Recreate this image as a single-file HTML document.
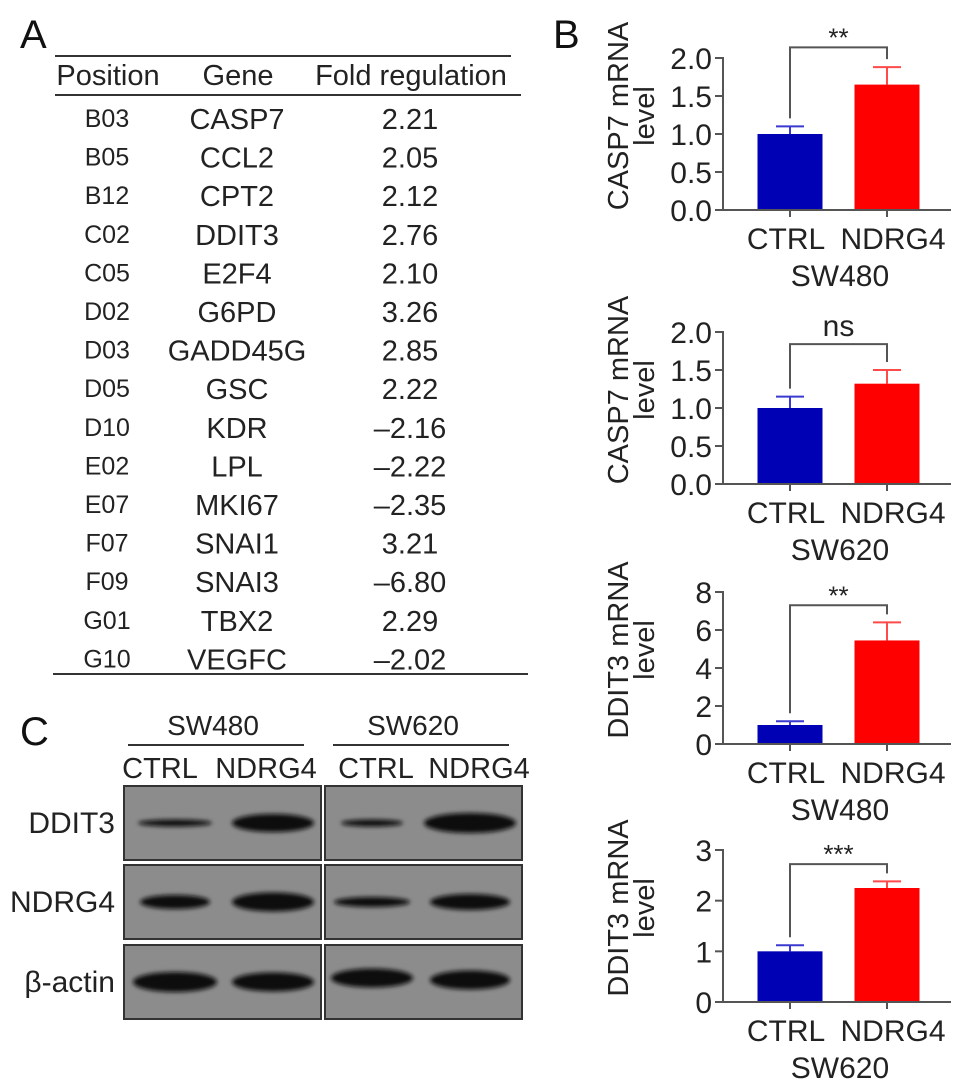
<!DOCTYPE html>
<html><head><meta charset="utf-8">
<style>
html,body{margin:0;padding:0;background:#fff;}
svg{display:block;font-family:"Liberation Sans",Arial,sans-serif;}
</style></head>
<body>
<svg id="fig" width="969" height="1090" viewBox="0 0 969 1090" xmlns="http://www.w3.org/2000/svg">
<defs><filter id="blur" x="-20%" y="-100%" width="140%" height="300%"><feGaussianBlur stdDeviation="2.2"/></filter></defs>
<text x="20" y="48" font-size="40" fill="#111">A</text>
<text x="553" y="48" font-size="40" fill="#111">B</text>
<text x="20" y="745" font-size="40" fill="#111">C</text>
<g id="table">
<line x1="55" y1="56" x2="511" y2="56" stroke="#333" stroke-width="2"/>
<line x1="55" y1="95" x2="521" y2="95" stroke="#333" stroke-width="2"/>
<line x1="53" y1="674" x2="528" y2="674" stroke="#333" stroke-width="2"/>
<text x="108" y="85" font-size="29" text-anchor="middle" fill="#222">Position</text>
<text x="238" y="85" font-size="29" text-anchor="middle" fill="#222">Gene</text>
<text x="411" y="85" font-size="29" text-anchor="middle" fill="#222">Fold regulation</text>
</g>
<g id="blot"></g>
<g id="charts"></g>
</svg>
<script>
const NS="http://www.w3.org/2000/svg";
function mk(tag,attrs,parent,txt){const e=document.createElementNS(NS,tag);for(const k in attrs)e.setAttribute(k,attrs[k]);if(txt!==undefined)e.textContent=txt;parent.appendChild(e);return e;}

const positions=["B03","B05","B12","C02","C05","D02","D03","D05","D10","E02","E07","F07","F09","G01","G10"];
const genes=["CASP7","CCL2","CPT2","DDIT3","E2F4","G6PD","GADD45G","GSC","KDR","LPL","MKI67","SNAI1","SNAI3","TBX2","VEGFC"];
const folds=["2.21","2.05","2.12","2.76","2.10","3.26","2.85","2.22","–2.16","–2.22","–2.35","3.21","–6.80","2.29","–2.02"];
const tbl=document.getElementById('table');
positions.forEach((p,i)=>{
  const y=127+i*38.6;
  let t=mk('text',{x:107,y:y,'font-size':25,'text-anchor':'middle',fill:'#222'},tbl,p);
  
  
  t=mk('text',{x:237,y:y+2,'font-size':29,'text-anchor':'middle',fill:'#222'},tbl,genes[i]);
  
  
  t=mk('text',{x:410,y:y+2,'font-size':29,'text-anchor':'middle',fill:'#222'},tbl,folds[i]);
  
  
});

const blot=document.getElementById('blot');
const blotRows=["DDIT3","NDRG4","β-actin"];
const rowTop=[786,865,945];
const rowH=74;
const panelsX=[[124,321],[325,522]];
const laneX=[[175,273],[372,470]];
const bandThick=[[5,16,5,18],[12,17,8,14],[18,17,17,17]];
const bandW=[[74,82,62,92],[70,82,76,80],[84,82,82,80]];
const bandDy=[[0,0,0,0],[0,0,0,0],[0,0,-4,-2]];
blotRows.forEach((r,ri)=>{
  panelsX.forEach((px,pi)=>{
    let rc=mk('rect',{x:px[0],y:rowTop[ri],width:px[1]-px[0],height:rowH,fill:'#8c8c8c',stroke:'#333','stroke-width':2},blot);
    
    
    laneX[pi].forEach((lx,li)=>{
      const idx=pi*2+li;
      let b=mk('ellipse',{cx:lx,cy:rowTop[ri]+37+bandDy[ri][idx],rx:bandW[ri][idx]/2,ry:bandThick[ri][idx]/2+1,fill:'#111',filter:'url(#blur)'},blot);
      
      
    });
  });
  let t=mk('text',{x:115,y:rowTop[ri]+47,'font-size':30,'text-anchor':'end',fill:'#222'},blot,r);
  
  
});
[["SW480",213,128,304],["SW620",413,333,509]].forEach(g=>{
  let t=mk('text',{x:g[1],y:735,'font-size':28,'text-anchor':'middle',fill:'#222'},blot,g[0]);
  
  
  let l=mk('line',{x1:g[2],y1:745,x2:g[3],y2:745,stroke:'#333','stroke-width':2},blot);
  
  
});
[["CTRL",160],["NDRG4",266],["CTRL",376],["NDRG4",479]].forEach(g=>{
  let t=mk('text',{x:g[1],y:778,'font-size':29,'text-anchor':'middle',fill:'#222'},blot,g[0]);
  
  
});

const groups=["CTRL","NDRG4"];
const chartGenes=["CASP7","CASP7","DDIT3","DDIT3"];
const chartCells=["SW480","SW620","SW480","SW620"];
const means=[[1.0,1.65],[1.0,1.32],[1.0,5.45],[1.0,2.25]];
const errs=[[0.1,0.23],[0.15,0.18],[0.2,0.95],[0.12,0.13]];
const yMaxes=[2.0,2.0,8,3];
const tickLabels=[["0.0","0.5","1.0","1.5","2.0"],["0.0","0.5","1.0","1.5","2.0"],["0","2","4","6","8"],["0","1","2","3"]];
const sigLabels=["**","ns","**","***"];
const bracketLevels=[2.14,1.84,7.3,2.72];

const zeroY=[210,484,744,1002];
const plotH=152;
const axisX=723, barCenters=[790,887], barW=65, axisEnd=951;
const charts=document.getElementById('charts');
const colors=["#0000b4","#ff0000"];
const errColors=["#3a3ad0","#ff4a4a"];
for(let c=0;c<4;c++){
  const g=mk('g',{},charts);
  
  
  const y0=zeroY[c];
  const ys=v=>y0-v/yMaxes[c]*plotH;
  groups.forEach((gr,i)=>{
    const cx=barCenters[i], top=ys(means[c][i]), et=ys(means[c][i]+errs[c][i]);
    let l=mk('line',{x1:cx,y1:top,x2:cx,y2:et,stroke:errColors[i],'stroke-width':2},g);
    
    
    l=mk('line',{x1:cx-14,y1:et,x2:cx+14,y2:et,stroke:errColors[i],'stroke-width':2},g);
    
    
    const b=mk('rect',{x:cx-barW/2,y:top,width:barW,height:y0-top,fill:colors[i]},g);
    
    
    const t=mk('text',{x:cx+(i?6:-4),y:y0+39,'font-size':30,'text-anchor':'middle',fill:'#222'},g,gr);
    
    
  });
  let ax=mk('line',{x1:axisX,y1:ys(yMaxes[c])-1,x2:axisX,y2:y0,stroke:'#555','stroke-width':2},g);
  
  
  ax=mk('line',{x1:axisX-8,y1:y0,x2:axisEnd,y2:y0,stroke:'#555','stroke-width':2},g);
  
  
  barCenters.forEach(cx=>{const tk=mk('line',{x1:cx,y1:y0,x2:cx,y2:y0+7,stroke:'#555','stroke-width':2},g);
    
    });
  const n=tickLabels[c].length;
  tickLabels[c].forEach((lb,k)=>{
    const v=yMaxes[c]*k/(n-1), y=ys(v);
    const tk=mk('line',{x1:axisX-8,y1:y,x2:axisX,y2:y,stroke:'#555','stroke-width':2},g);
    
    
    const t=mk('text',{x:axisX-11,y:y+11,'font-size':30,'text-anchor':'end',fill:'#222'},g,lb);
    
    
  });
  const midY=y0-plotH/2-18;
  let t=mk('text',{x:0,y:0,'font-size':29,'text-anchor':'middle',fill:'#222',transform:`translate(628,${midY}) rotate(-90)`},g,chartGenes[c]+" mRNA");
  
  
  t=mk('text',{x:0,y:0,'font-size':29,'text-anchor':'middle',fill:'#222',transform:`translate(654,${midY}) rotate(-90)`},g,"level");
  
  
  t=mk('text',{x:840,y:y0+76,'font-size':30,'text-anchor':'middle',fill:'#222'},g,chartCells[c]);
  
  
  const by=ys(bracketLevels[c]);
  const l0=ys(means[c][0]+errs[c][0])-8, l1=ys(means[c][1]+errs[c][1])-8;
  const br=mk('path',{d:`M${barCenters[0]},${l0} V${by} H${barCenters[1]} V${l1}`,fill:'none',stroke:'#555','stroke-width':2},g);
  
  
  const isNs=sigLabels[c]==="ns";
  t=mk('text',{x:(barCenters[0]+barCenters[1])/2,y:isNs?by-8:by-1,'font-size':isNs?30:26,'text-anchor':'middle',fill:'#222'},g,sigLabels[c]);
  
  
}
</script>
</body></html>
